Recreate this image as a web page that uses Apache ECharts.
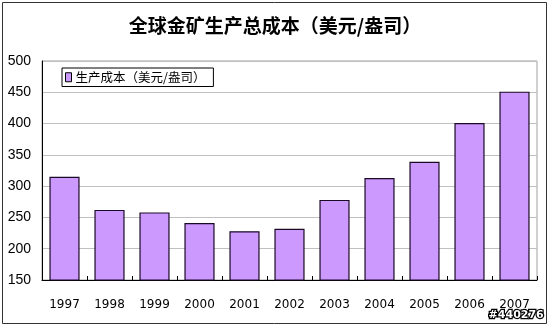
<!DOCTYPE html>
<html>
<head>
<meta charset="utf-8">
<script src="https://cdn.jsdelivr.net/npm/echarts@6/dist/echarts.min.js"></script>
<style>html,body{margin:0;padding:0;background:#fff;}#c{width:550px;height:327px;}</style>
</head>
<body>
<div id="c"></div>
<script>
var titleText = '全球金矿生产总成本（美元/盎司）';
var seriesName = '生产成本（美元/盎司）';
var years = ['1997','1998','1999','2000','2001','2002','2003','2004','2005','2006','2007'];
var costs = [315, 262, 258, 241, 228, 232, 278, 313, 339, 401, 451];
var yMin = 150, yMax = 500, yStep = 50;
var watermark = '#440276';

var chart = echarts.init(document.getElementById('c'), null, {renderer: 'canvas'});
chart.setOption({
  animation: false,
  backgroundColor: '#ffffff',
  title: {
    text: titleText,
    left: 'center',
    top: 11,
    textStyle: {fontFamily: 'Noto Sans CJK SC', fontSize: 19, fontWeight: 'bold', color: '#000'}
  },
  legend: {
    left: 62, top: 68,
    orient: 'horizontal',
    borderColor: '#000', borderWidth: 1,
    padding: [3, 8, 3, 3],
    itemWidth: 6, itemHeight: 9, itemGap: 4,
    icon: 'rect',
    textStyle: {fontFamily: 'Noto Sans CJK SC', fontSize: 12.5, color: '#000', padding: [0,0,0,-1]},
    data: [{name: seriesName, itemStyle: {color: '#cc99ff', borderColor: '#000', borderWidth: 1}}]
  },
  grid: {left: 42, right: 13, top: 61, bottom: 47, show: true, borderColor: '#a0a0a0', borderWidth: 1},
  xAxis: {
    type: 'category',
    data: years,
    axisLine: {lineStyle: {color: '#000', width: 1}},
    axisTick: {show: true, inside: true, length: 4, lineStyle: {color: '#000'}},
    axisLabel: {fontFamily: 'DejaVu Sans', fontSize: 12, color: '#000', margin: 19}
  },
  yAxis: {
    type: 'value',
    min: yMin, max: yMax, interval: yStep,
    axisLine: {show: true, lineStyle: {color: '#000', width: 1}},
    axisTick: {show: false},
    axisLabel: {fontFamily: 'Liberation Sans', fontSize: 14, color: '#000', margin: 11},
    splitLine: {lineStyle: {color: '#c0c0c0', width: 1}}
  },
  series: [{
    name: seriesName,
    type: 'bar',
    data: costs,
    barCategoryGap: '33%',
    itemStyle: {color: '#cc99ff', borderColor: '#1a0a26', borderWidth: 1.2}
  }],
  graphic: [
    {type: 'rect', shape: {x: 2.5, y: 2.5, width: 544, height: 321}, style: {fill: null, stroke: '#333', lineWidth: 1}, silent: true, z: 100},
    {type: 'text', right: 5, bottom: 5, style: {text: watermark, fontFamily: 'DejaVu Sans', fontSize: 11, fontWeight: 'bold', fill: '#fff', stroke: '#000', lineWidth: 2.5}, z: 100}
  ]
});
</script>
</body>
</html>
